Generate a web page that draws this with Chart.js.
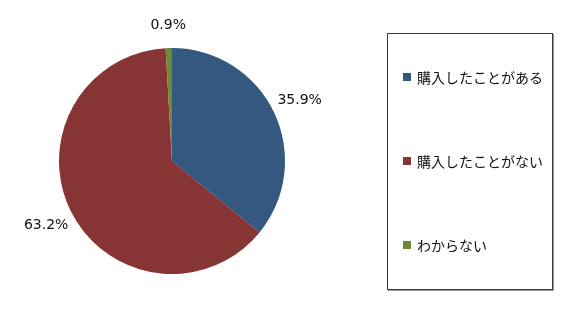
<!DOCTYPE html>
<html>
<head>
<meta charset="utf-8">
<script src="https://cdn.jsdelivr.net/npm/chart.js@4"></script>
<style>
  body { margin: 0; background: #fff; }
  #wrap { position: relative; width: 567px; height: 316px; }
  #legend {
    position: absolute; left: 387px; top: 33px; width: 164px; height: 255px;
    border: 1px solid #3a3a3a; box-shadow: 1px 1px 0 #9a9a9a;
    font-family: "Noto Sans CJK JP", sans-serif; font-size: 14px; color: #111;
  }
  .item { position: absolute; left: 15px; display: flex; align-items: center; }
  .box { width: 8px; height: 8px; margin-right: 6px; }
</style>
</head>
<body>
<div id="wrap">
  <canvas id="pie" width="567" height="316"></canvas>
  <div id="legend"></div>
</div>
<script>
const categories = ["購入したことがある", "購入したことがない", "わからない"];
const shares = [35.9, 63.2, 0.9];
const colors = ["#34587f", "#873434", "#6d8a3b"];

// legend on the right, items spread evenly in the frame
const legend = document.getElementById("legend");
categories.forEach((c, i) => {
  legend.innerHTML += `<div class="item" style="top:${33 + i * 84}px">
    <span class="box" style="background:${colors[i]}"></span>${c}</div>`;
});

// percent labels just outside each slice (wider text needs more room sideways)
const outsideLabels = {
  id: "outsideLabels",
  afterDatasetsDraw(chart) {
    const ctx = chart.ctx;
    ctx.save();
    ctx.font = "14px 'DejaVu Sans'";
    ctx.fillStyle = "#111";
    ctx.textAlign = "center";
    ctx.textBaseline = "middle";
    chart.getDatasetMeta(0).data.forEach((arc, i) => {
      const mid = (arc.startAngle + arc.endAngle) / 2;
      const d = arc.outerRadius + 22 + 7 * Math.abs(Math.cos(mid));
      const x = arc.x + Math.cos(mid) * d;
      const y = arc.y + Math.sin(mid) * d;
      ctx.fillText(shares[i].toFixed(1) + "%", x, y);
    });
    ctx.restore();
  }
};

new Chart(document.getElementById("pie"), {
  type: "pie",
  data: {
    labels: categories,
    datasets: [{
      data: shares,
      backgroundColor: colors,
      borderWidth: 0
    }]
  },
  options: {
    responsive: false,
    animation: false,
    layout: { padding: { left: 59, right: 282, top: 48, bottom: 42 } },
    plugins: {
      legend: { display: false },
      tooltip: { enabled: false }
    }
  },
  plugins: [outsideLabels]
});
</script>
</body>
</html>
